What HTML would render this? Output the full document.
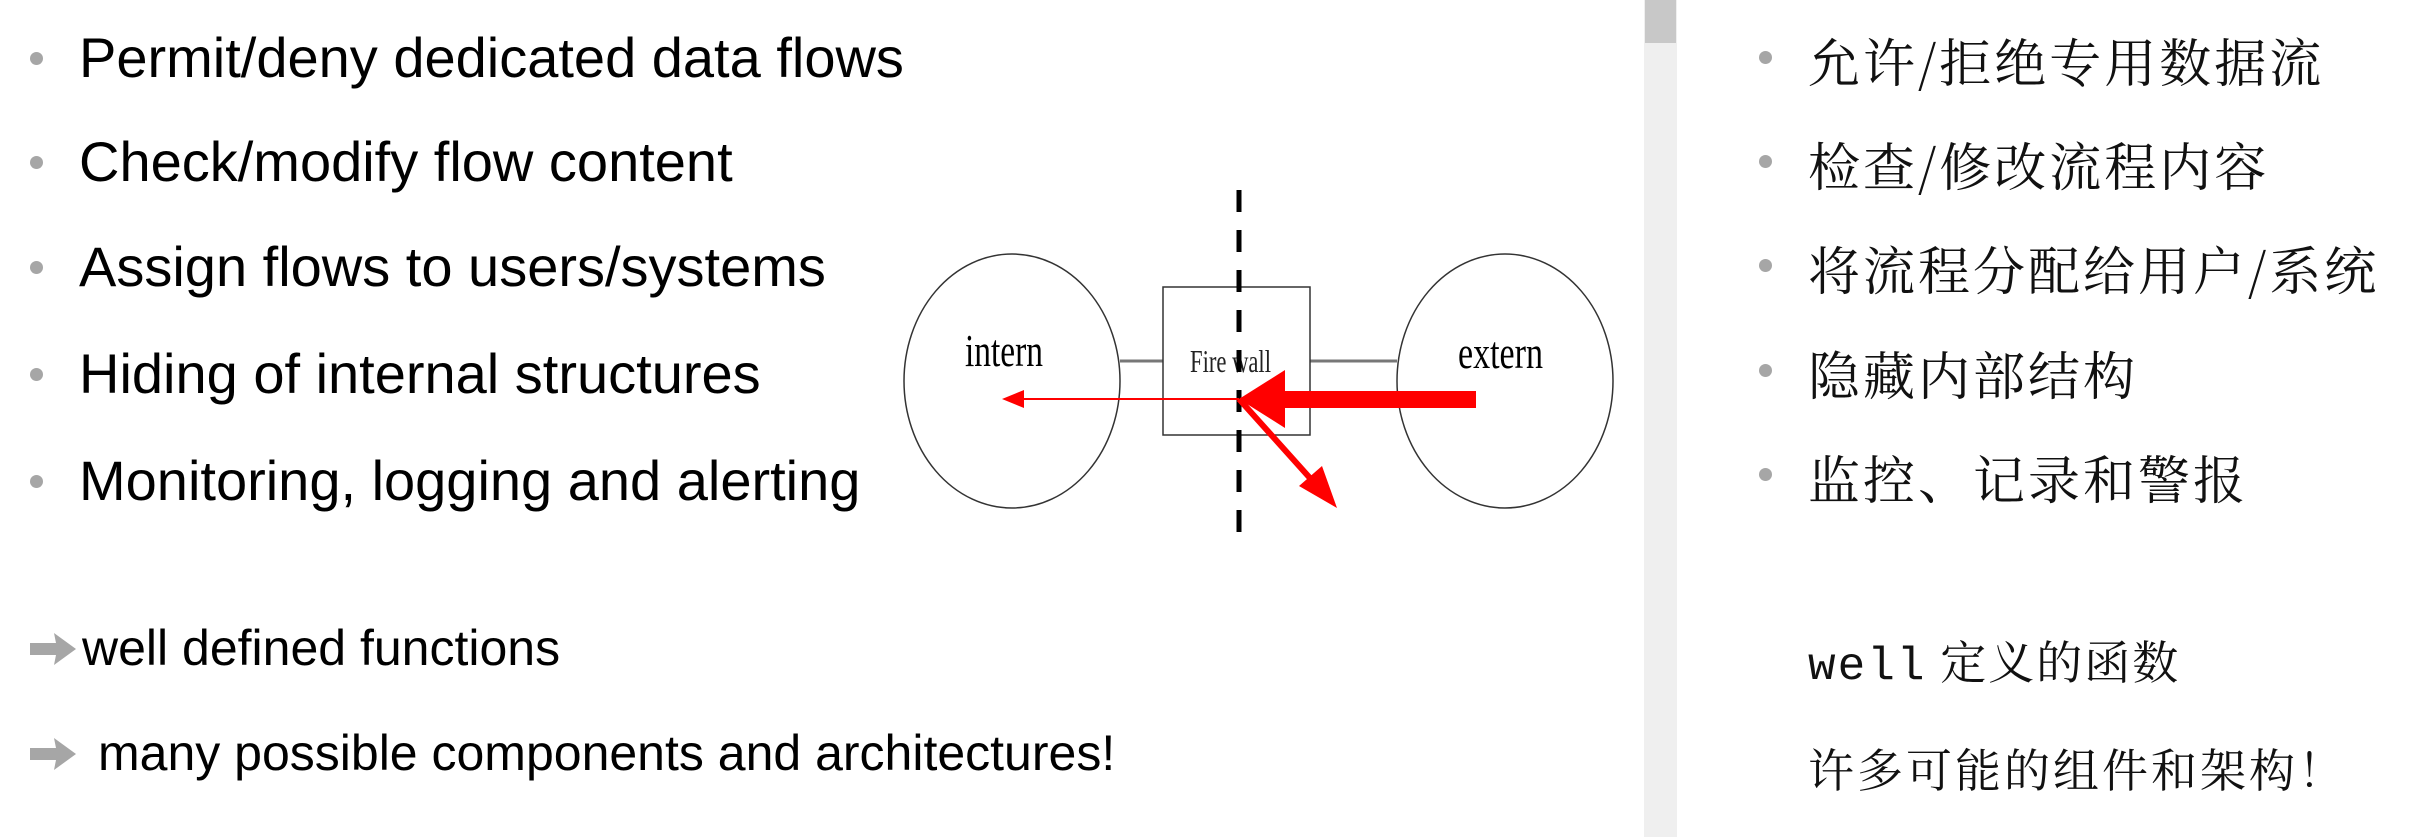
<!DOCTYPE html>
<html><head><meta charset="utf-8"><style>
html,body{margin:0;padding:0;background:#fff;}
body{width:2417px;height:837px;position:relative;overflow:hidden;font-family:"Liberation Sans",Arial,sans-serif;}
.t{position:absolute;white-space:nowrap;color:#000;}
.b{position:absolute;width:13px;height:13px;border-radius:50%;background:#a6a6a6;}
.cn{position:absolute;white-space:nowrap;color:#111;font-family:"Noto Serif CJK SC","Liberation Serif",serif;font-size:52px;letter-spacing:3px;}
</style></head><body>
<div class="b" style="left:30px;top:52px"></div><div class="t" style="left:79px;top:25px;font-size:56px;line-height:66px">Permit/deny dedicated data flows</div>
<div class="b" style="left:30px;top:156px"></div><div class="t" style="left:79px;top:129px;font-size:56px;line-height:66px">Check/modify flow content</div>
<div class="b" style="left:30px;top:261px"></div><div class="t" style="left:79px;top:234px;font-size:56px;line-height:66px">Assign flows to users/systems</div>
<div class="b" style="left:30px;top:368px"></div><div class="t" style="left:79px;top:341px;font-size:56px;line-height:66px">Hiding of internal structures</div>
<div class="b" style="left:30px;top:475px"></div><div class="t" style="left:79px;top:448px;font-size:56px;line-height:66px">Monitoring, logging and alerting</div>

<svg style="position:absolute;left:30px;top:631px" width="48" height="36"><polygon points="0,12 26,12 24,2 46,18 24,34 26,24 0,24" fill="#a6a6a6"/></svg>
<div class="t" style="left:82px;top:618px;font-size:50px;line-height:60px">well defined functions</div>
<svg style="position:absolute;left:30px;top:736px" width="48" height="36"><polygon points="0,12 26,12 24,2 46,18 24,34 26,24 0,24" fill="#a6a6a6"/></svg>
<div class="t" style="left:98px;top:723px;font-size:50px;line-height:60px">many possible components and architectures!</div>

<svg style="position:absolute;left:0;top:0" width="2417" height="837">
<ellipse cx="1012" cy="381" rx="108" ry="127" fill="none" stroke="#333" stroke-width="1.5"/>
<ellipse cx="1505" cy="381" rx="108" ry="127" fill="none" stroke="#333" stroke-width="1.5"/>
<line x1="1120" y1="361" x2="1163" y2="361" stroke="#777" stroke-width="3"/>
<line x1="1310" y1="361" x2="1397" y2="361" stroke="#777" stroke-width="3"/>
<rect x="1163" y="287" width="147" height="148" fill="none" stroke="#333" stroke-width="1.5"/>
<text x="965" y="366" font-family="Liberation Serif,serif" font-size="46" textLength="78" lengthAdjust="spacingAndGlyphs">intern</text>
<text x="1458" y="368" font-family="Liberation Serif,serif" font-size="46" textLength="85" lengthAdjust="spacingAndGlyphs">extern</text>
<text x="1190" y="372" font-family="Liberation Serif,serif" font-size="32" textLength="81" lengthAdjust="spacingAndGlyphs" fill="#222">Fire wall</text>
<line x1="1239" y1="190" x2="1239" y2="534" stroke="#000" stroke-width="5" stroke-dasharray="22,18"/>
<line x1="1239" y1="399" x2="1020" y2="399" stroke="#f00" stroke-width="2"/>
<polygon points="1002,399 1024,390 1024,408" fill="#f00"/>
<rect x="1282" y="391" width="194" height="17" fill="#f00"/>
<polygon points="1239,399 1285,370 1285,428" fill="#f00"/>
<line x1="1239" y1="399" x2="1318" y2="487" stroke="#f00" stroke-width="6"/>
<polygon points="1337,508 1299,486 1322,466" fill="#f00"/>
</svg>

<div style="position:absolute;left:1644px;top:0;width:33px;height:837px;background:#efefef"></div>
<div style="position:absolute;left:1645px;top:0;width:31px;height:43px;background:#c8c8c8"></div>

<div class="b" style="left:1759px;top:51px"></div><div class="cn" style="left:1808px;top:22px">允许/拒绝专用数据流</div>
<div class="b" style="left:1759px;top:155px"></div><div class="cn" style="left:1808px;top:126px">检查/修改流程内容</div>
<div class="b" style="left:1759px;top:259px"></div><div class="cn" style="left:1808px;top:230px">将流程分配给用户/系统</div>
<div class="b" style="left:1759px;top:364px"></div><div class="cn" style="left:1808px;top:335px">隐藏内部结构</div>
<div class="b" style="left:1759px;top:468px"></div><div class="cn" style="left:1808px;top:439px">监控、记录和警报</div>
<div class="cn" style="left:1808px;top:627px;font-size:46px;letter-spacing:2px"><span style="font-family:'Liberation Mono',monospace">well</span> 定义的函数</div>
<div class="cn" style="left:1808px;top:735px;font-size:46px;letter-spacing:3px">许多可能的组件和架构！</div>
</body></html>
